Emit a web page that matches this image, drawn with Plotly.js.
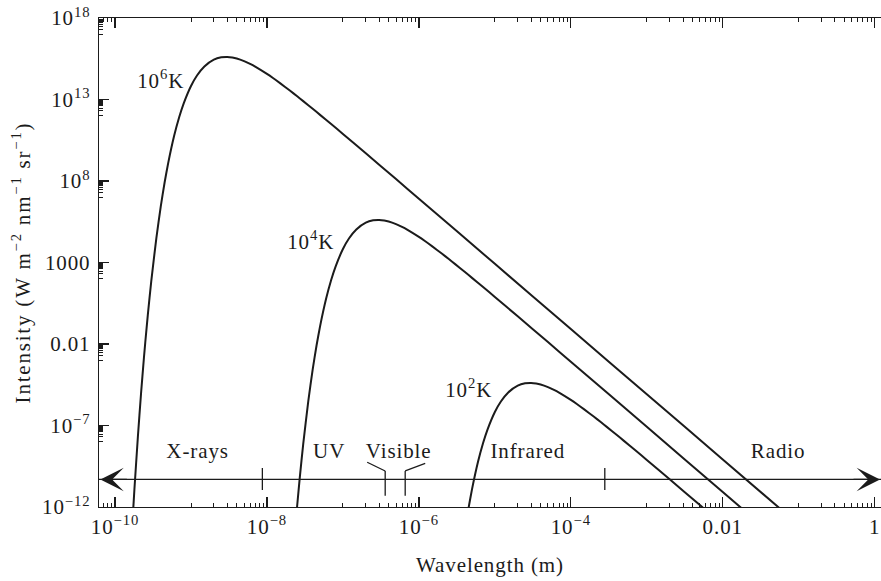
<!DOCTYPE html>
<html>
<head>
<meta charset="utf-8">
<script src="https://cdn.plot.ly/plotly-3.0.1.min.js"></script>
<style>
  html, body { margin: 0; padding: 0; background: #ffffff; }
  #chart { width: 881px; height: 581px; }
  #chart text { letter-spacing: 0.9px; }
  #chart .ytitle { letter-spacing: 1.8px; }
</style>
</head>
<body>
<div id="chart"></div>
<script>
// Blackbody spectral radiance, W m^-2 nm^-1 sr^-1, against wavelength in metres.
const wavelength1e6 = [1.7e-10, 1.8e-10, 2e-10, 2.2e-10, 2.4e-10, 2.5e-10, 2.7e-10, 3e-10, 3.5e-10, 4e-10, 4.5e-10,
  5e-10, 6e-10, 7e-10, 8e-10, 1e-9, 1.2e-9, 1.5e-9, 2e-9, 2.5e-9, 3e-9, 3.5e-9, 4e-9, 5e-9, 6e-9, 7e-9,
  1e-8, 1.2e-8, 1.5e-8, 2e-8, 2.5e-8, 3e-8, 4e-8, 5e-8, 7e-8, 1e-7, 2e-7, 5e-7, 1e-6, 1e-5, 1e-4, 1e-3, 1e-2, 0.1];
const intensity1e6 = [1.47e-13, 1.22e-11, 2.13e-8, 9.14e-6, 1.38e-3, 1.24e-2, 0.598, 72.7, 3.18e4, 2.78e6, 8.40e7,
  1.21e9, 5.90e10, 8.39e11, 5.62e12, 6.72e13, 2.97e14, 1.07e15, 2.80e15, 3.87e15, 4.08e15, 3.78e15, 3.28e15, 2.27e15, 1.53e15, 1.04e15,
  3.70e14, 2.07e14, 9.74e13, 3.53e13, 1.57e13, 7.96e12, 2.69e12, 1.14e12, 3.11e11, 7.70e10, 4.99e9, 1.31e8, 8.22e6,
  8.27e2, 8.27e-2, 8.28e-6, 8.28e-10, 8.28e-14];

const wavelength1e4 = [2.4e-8, 2.5e-8, 2.7e-8, 3e-8, 3.5e-8, 4e-8, 4.5e-8, 5e-8, 6e-8, 7e-8, 8e-8,
  1e-7, 1.2e-7, 1.5e-7, 2e-7, 2.5e-7, 3e-7, 3.5e-7, 4e-7, 5e-7, 6e-7, 7e-7, 1e-6, 1.2e-6, 1.5e-6, 2e-6, 2.5e-6,
  3e-6, 4e-6, 5e-6, 7e-6, 1e-5, 2e-5, 5e-5, 1e-4, 1e-3, 1e-2, 0.1];
const intensity1e4 = [1.38e-13, 1.24e-12, 5.98e-11, 7.27e-9, 3.18e-6, 2.78e-4, 8.40e-3, 0.121, 5.90, 83.9, 562,
  6.72e3, 2.97e4, 1.07e5, 2.80e5, 3.87e5, 4.08e5, 3.78e5, 3.28e5, 2.27e5, 1.53e5, 1.04e5, 3.70e4, 2.07e4, 9.74e3, 3.53e3, 1.57e3,
  796, 269, 114, 31.1, 7.70, 0.499, 1.31e-2, 8.22e-4, 8.27e-8, 8.27e-12, 8.28e-16];

const wavelength1e2 = [4e-6, 4.5e-6, 5e-6, 6e-6, 7e-6, 8e-6, 1e-5, 1.2e-5, 1.5e-5, 2e-5, 2.5e-5,
  3e-5, 3.5e-5, 4e-5, 5e-5, 6e-5, 7e-5, 1e-4, 1.2e-4, 1.5e-4, 2e-4, 2.5e-4, 3e-4, 4e-4, 5e-4, 7e-4,
  1e-3, 2e-3, 5e-3, 1e-2];
const intensity1e2 = [2.78e-14, 8.40e-13, 1.21e-11, 5.90e-10, 8.39e-9, 5.62e-8, 6.72e-7, 2.97e-6, 1.07e-5, 2.80e-5, 3.87e-5,
  4.08e-5, 3.78e-5, 3.28e-5, 2.27e-5, 1.53e-5, 1.04e-5, 3.70e-6, 2.07e-6, 9.74e-7, 3.53e-7, 1.57e-7, 7.96e-8, 2.69e-8, 1.14e-8, 3.11e-9,
  7.70e-10, 4.99e-11, 1.31e-12, 8.22e-14];

const curveLabels = ['10<sup>6</sup>K', '10<sup>4</sup>K', '10<sup>2</sup>K'];

// Axis ticks
const xTickValues = [1e-10, 1e-8, 1e-6, 1e-4, 1e-2, 1];
const xTickText = ['10<sup>−10</sup>', '10<sup>−8</sup>', '10<sup>−6</sup>', '10<sup>−4</sup>', '0.01', '1'];
const yTickValues = [1e18, 1e13, 1e8, 1e3, 1e-2, 1e-7, 1e-12];
const yTickText = ['10<sup>18</sup>', '10<sup>13</sup>', '10<sup>8</sup>', '1000', '0.01', '10<sup>−7</sup>', '10<sup>−12</sup>'];

// Electromagnetic bands and the wavelengths that separate them
const bandNames = ['X-rays', 'UV', 'Visible', 'Infrared', 'Radio'];
const bandEdges = [8.7e-9, 3.6e-7, 6.6e-7, 2.8e-4];

// Minor ticks: the decade just below each labelled tick
function decadeBelow(majors, lo, hi) {
  const out = [];
  majors.forEach(function (m) {
    for (let k = 1; k <= 9; k++) {
      const v = k * m / 10;
      if (v > lo && v < hi) out.push(v);
    }
  });
  return out;
}

const ink = '#1b1b1b';
const serif = 'Liberation Serif, Times New Roman, serif';

function curve(x, y) {
  return {
    x: x, y: y, type: 'scatter', mode: 'lines',
    line: { color: ink, width: 2, shape: 'spline', smoothing: 0.5 },
    hoverinfo: 'skip', showlegend: false
  };
}

const traces = [
  curve(wavelength1e6, intensity1e6),
  curve(wavelength1e4, intensity1e4),
  curve(wavelength1e2, intensity1e2)
];

// Band scale drawn across the bottom of the plot
const bandY = 0.0563;
const shapes = [
  { type: 'line', xref: 'paper', yref: 'paper', x0: 0.0, x1: 1.0, y0: bandY, y1: bandY,
    line: { color: ink, width: 1.3 } }
];
[bandEdges[0], bandEdges[3]].forEach(function (e) {
  shapes.push({ type: 'line', xref: 'x', yref: 'paper', x0: e, x1: e, y0: 0.0348, y1: 0.0798,
    line: { color: ink, width: 1.3 } });
});
// Bracket marking the visible range: a stem below each edge, then a slant out towards the label
[[bandEdges[1], -18, 0.0915], [bandEdges[2], 20, 0.0894]].forEach(function (b) {
  shapes.push({ type: 'line', xref: 'x', yref: 'paper', x0: b[0], x1: b[0], y0: 0.0231, y1: 0.0737,
    line: { color: ink, width: 1.3 } });
  shapes.push({ type: 'path', xref: 'x', xsizemode: 'pixel', xanchor: b[0], yref: 'paper',
    path: 'M0,0.0737 L' + b[1] + ',' + b[2], line: { color: ink, width: 1.3 } });
});

const textFont = { family: serif, size: 21, color: ink };
const annotations = [];
// Temperature labels beside each curve (log10 axis coordinates)
[[-9.40, 14.2], [-7.42, 4.35], [-5.34, -4.72]].forEach(function (p, i) {
  annotations.push({ x: p[0], y: p[1], xref: 'x', yref: 'y', text: curveLabels[i],
    showarrow: false, font: textFont, xanchor: 'center', yanchor: 'middle' });
});
// Band names
[-8.914, -7.18, -6.272, -4.562, -1.273].forEach(function (lx, i) {
  annotations.push({ x: lx, y: 0.114, xref: 'x', yref: 'paper', text: bandNames[i],
    showarrow: false, font: textFont, xanchor: 'center', yanchor: 'middle' });
});
// Arrowheads at both ends of the band scale
[[-10.193, 28], [0.07, -28]].forEach(function (a) {
  annotations.push({ x: a[0], y: bandY, xref: 'x', yref: 'paper', text: '',
    showarrow: true, ax: a[1], ay: 0, arrowhead: 3, arrowsize: 3.0, arrowwidth: 1.3,
    arrowcolor: ink, standoff: 0 });
});

const layout = {
  width: 881, height: 581,
  margin: { l: 99, r: 0, t: 18, b: 74, pad: 0 },
  paper_bgcolor: '#ffffff', plot_bgcolor: '#ffffff',
  font: textFont,
  showlegend: false,
  xaxis: {
    type: 'log', range: [-10.211, 0.083], autorange: false,
    tickmode: 'array', tickvals: xTickValues, ticktext: xTickText,
    ticks: 'inside', ticklen: 10, tickwidth: 1.3, tickcolor: ink,
    showline: true, linecolor: ink, linewidth: 1.3, mirror: 'ticks',
    showgrid: false, zeroline: false,
    tickfont: textFont,
    minor: { tickmode: 'array', tickvals: decadeBelow(xTickValues, 6.2e-11, 1.2),
      ticks: 'inside', ticklen: 4, tickwidth: 1, tickcolor: ink, showgrid: false },
    title: { text: 'Wavelength (m)', font: textFont, standoff: 19 }
  },
  yaxis: {
    type: 'log', range: [-12, 18], autorange: false,
    tickmode: 'array', tickvals: yTickValues, ticktext: yTickText,
    ticks: 'inside', ticklen: 10, tickwidth: 1.3, tickcolor: ink,
    showline: true, linecolor: ink, linewidth: 1.3, mirror: false,
    showgrid: false, zeroline: false,
    tickfont: textFont, ticklabelstandoff: 3,
    minor: { tickmode: 'array', tickvals: decadeBelow(yTickValues, 1e-12, 1e18),
      ticks: 'inside', ticklen: 4, tickwidth: 1, tickcolor: ink, showgrid: false },
    title: { text: 'Intensity (W m<sup>−2</sup> nm<sup>−1</sup> sr<sup>−1</sup>)', font: textFont, standoff: 10 }
  },
  shapes: shapes,
  annotations: annotations
};

Plotly.newPlot('chart', traces, layout, { staticPlot: true, displayModeBar: false });
</script>
</body>
</html>
